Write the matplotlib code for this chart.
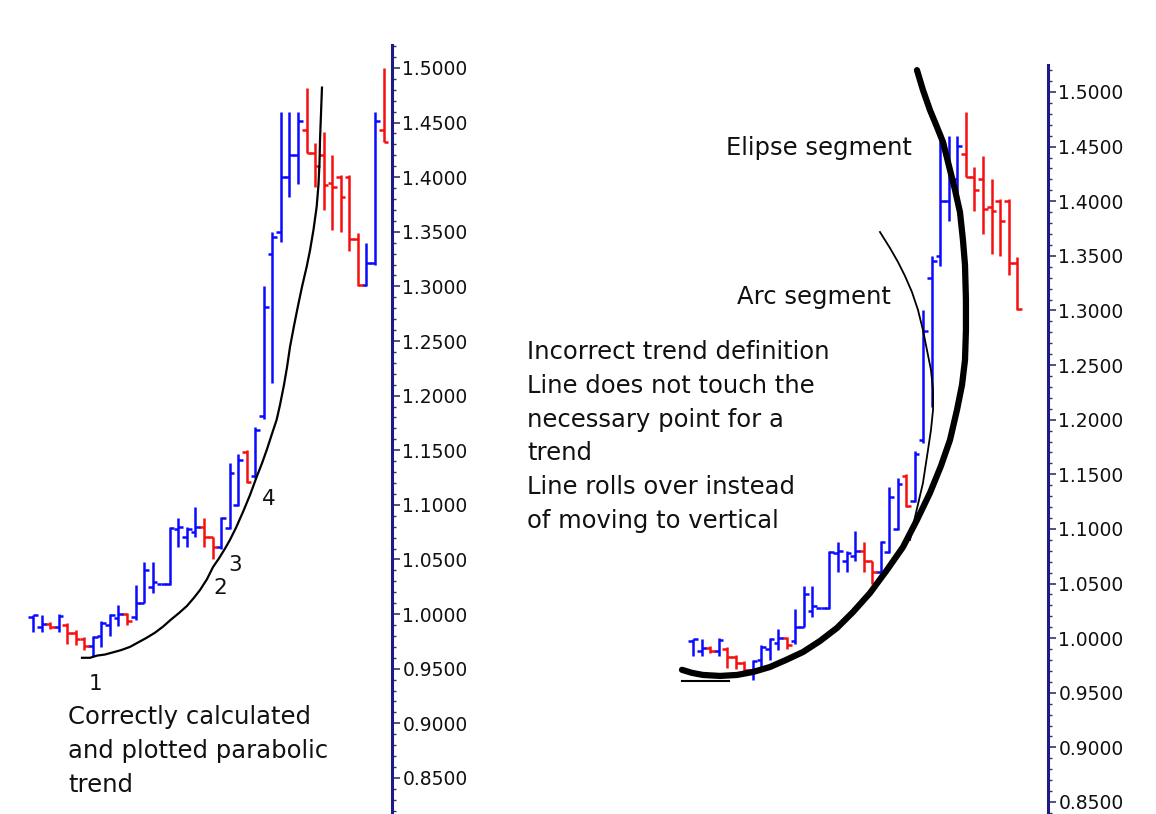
import matplotlib.pyplot as plt
from matplotlib.ticker import MultipleLocator, FormatStrFormatter

# OHLC bars (left chart shows all, right chart stops at the 1.30 low)
opens  = [0.997, 0.988, 0.991, 0.988, 0.990, 0.983, 0.977, 0.971, 0.980, 0.990,
          0.996, 1.000, 0.997, 1.010, 1.025, 1.028, 1.028, 1.078, 1.071, 1.075,
          1.080, 1.071, 1.061, 1.079, 1.100, 1.148, 1.126, 1.181, 1.330, 1.350,
          1.400, 1.420, 1.443, 1.422, 1.420, 1.395, 1.400, 1.400, 1.343, 1.301,
          1.321, 1.443]
highs  = [0.999, 0.999, 0.993, 1.000, 0.992, 0.985, 0.979, 0.980, 0.994, 1.000,
          1.008, 1.001, 1.027, 1.048, 1.048, 1.028, 1.080, 1.088, 1.080, 1.098,
          1.088, 1.071, 1.089, 1.138, 1.147, 1.150, 1.171, 1.300, 1.350, 1.460,
          1.460, 1.460, 1.482, 1.431, 1.441, 1.420, 1.402, 1.402, 1.349, 1.340,
          1.460, 1.500]
lows   = [0.984, 0.984, 0.986, 0.984, 0.973, 0.972, 0.967, 0.962, 0.970, 0.980,
          0.989, 0.990, 0.995, 1.010, 1.019, 1.028, 1.027, 1.061, 1.061, 1.071,
          1.061, 1.050, 1.060, 1.078, 1.099, 1.120, 1.125, 1.179, 1.212, 1.341,
          1.382, 1.394, 1.422, 1.391, 1.370, 1.352, 1.350, 1.332, 1.300, 1.300,
          1.320, 1.432]
closes = [0.999, 0.991, 0.988, 0.998, 0.983, 0.977, 0.971, 0.979, 0.992, 0.999,
          1.000, 0.994, 1.010, 1.040, 1.029, 1.028, 1.079, 1.080, 1.078, 1.080,
          1.071, 1.061, 1.088, 1.129, 1.141, 1.121, 1.169, 1.281, 1.345, 1.400,
          1.420, 1.451, 1.422, 1.410, 1.393, 1.391, 1.382, 1.343, 1.301, 1.321,
          1.451, 1.432]
n_right = 39

# trend lines (bar number, price)
para_x = [5.73, 6.67, 7.49, 8.42, 9.36, 10.29, 11.35, 12.28, 13.22, 14.27,
          15.2, 16.14, 17.08, 18.01, 18.83, 19.53, 20.35, 21.05, 21.75, 22.46,
          23.04, 23.74, 24.56, 25.38, 26.16, 26.78, 27.37, 27.95, 28.5, 28.89,
          29.36, 29.71, 30.06, 30.53, 30.99, 31.46, 32.01, 32.4, 32.81, 33.18,
          33.39, 33.51, 33.57, 33.68, 33.8]
para_y = [0.960, 0.960, 0.962, 0.963, 0.965, 0.967, 0.970, 0.974, 0.978, 0.983,
          0.9885, 0.995, 1.001, 1.0075, 1.015, 1.022, 1.032, 1.043, 1.051, 1.060,
          1.068, 1.079, 1.0935, 1.109, 1.1256, 1.138, 1.151, 1.165, 1.178, 1.1915,
          1.210, 1.226, 1.2446, 1.264, 1.282, 1.2995, 1.318, 1.333, 1.352, 1.373,
          1.393, 1.413, 1.434, 1.457, 1.482]

ellipse_x = [26.26, 26.96, 27.78, 28.6, 29.31, 30.13, 30.72, 31.3, 31.65, 31.89,
             32.0, 32.0, 31.89, 31.54, 30.95, 30.13, 29.07, 27.78, 26.26, 24.62,
             22.74, 20.75, 18.76, 16.88, 14.89, 12.9, 10.9, 9.03, 7.03, 5.16,
             3.17, 1.17, -0.12, -1.29]
ellipse_y = [1.520, 1.5018, 1.4835, 1.468, 1.4542, 1.4286, 1.4103, 1.390, 1.3645,
             1.3416, 1.3096, 1.2821, 1.2546, 1.2318, 1.2089, 1.1814, 1.1576, 1.1329,
             1.1082, 1.0834, 1.0624, 1.0413, 1.0239, 1.0093, 0.9974, 0.9873, 0.980,
             0.9736, 0.969, 0.9663, 0.9654, 0.9663, 0.9682, 0.971]

arc_x = [21.92, 23.09, 24.03, 24.85, 25.67, 26.38, 26.96, 27.43, 27.9, 28.14,
         28.14, 27.9, 27.55, 26.96, 26.03, 25.44]
arc_y = [1.3718, 1.3572, 1.3444, 1.3316, 1.3169, 1.3004, 1.2821, 1.2638, 1.2455,
         1.2272, 1.2089, 1.1906, 1.1722, 1.142, 1.1109, 1.0899]

base_x = [-1.3, 4.2]
base_y = [0.961, 0.961]

BLUE = "#0a0aff"
RED = "#f51010"
AXIS = "#1c1c86"

fig = plt.figure(figsize=(11.56, 8.14), dpi=100)
W, H = 1156, 814


def price_axes(rect, xlim, ylim):
    ax = fig.add_axes(rect)
    ax.set_xlim(xlim)
    ax.set_ylim(ylim)
    for side in ["left", "top", "bottom"]:
        ax.spines[side].set_visible(False)
    ax.spines["right"].set_color(AXIS)
    ax.spines["right"].set_linewidth(2.2)
    ax.set_xticks([])
    ax.yaxis.tick_right()
    ax.yaxis.set_major_locator(MultipleLocator(0.05))
    ax.yaxis.set_minor_locator(MultipleLocator(0.01))
    ax.yaxis.set_major_formatter(FormatStrFormatter("%.4f"))
    ax.tick_params(axis="y", which="major", length=6, width=1.2, color="#333366",
                   pad=1.5, labelsize=13.5, labelcolor="#111111")
    ax.tick_params(axis="y", which="minor", length=3, width=1.0, color="#333366")
    ax.patch.set_alpha(0)
    return ax


def draw_bars(ax, n):
    xs = list(range(n))
    cols = [BLUE if closes[i] >= opens[i] else RED for i in xs]
    ax.vlines(xs, lows[:n], highs[:n], colors=cols, lw=1.8)
    ax.hlines(opens[:n], [x - 0.55 for x in xs], xs, colors=cols, lw=1.8)
    ax.hlines(closes[:n], xs, [x + 0.55 for x in xs], colors=cols, lw=1.8)


# left chart: spine at x=392px, 1.5 at y=68px
axl = price_axes([0, 0, 392 / W, (H - 45) / H], (-3.86, 41.99), (0.817, 1.521))
draw_bars(axl, len(opens))
axl.plot(para_x, para_y, color="black", lw=1.6, clip_on=False)

# right chart: spine at x=1048px, 1.5 at y=92px
axr = price_axes([600 / W, 0, 448 / W, (H - 65) / H], (-10.9, 41.62), (0.839, 1.5247))
draw_bars(axr, n_right)
axr.plot(ellipse_x, ellipse_y, color="black", lw=4.5, clip_on=False,
         solid_capstyle="round", solid_joinstyle="round")
axr.plot(arc_x, arc_y, color="black", lw=1.3, clip_on=False)
axr.plot(base_x, base_y, color="black", lw=1.5, clip_on=False)


def label(x, y, s, size=17.5):
    fig.text(x / W, 1 - y / H, s, fontsize=size, ha="left", va="center",
             color="#111111")


label(726, 148, "Elipse segment")
label(737, 297, "Arc segment")
right_lines = ["Incorrect trend definition", "Line does not touch the",
               "necessary point for a", "trend", "Line rolls over instead",
               "of moving to vertical"]
for k, s in enumerate(right_lines):
    label(527, 352 + 33.8 * k, s)
left_lines = ["Correctly calculated", "and plotted parabolic", "trend"]
for k, s in enumerate(left_lines):
    label(68, 717 + 34 * k, s)

for s, x, y in [("1", 89, 684), ("2", 213, 588), ("3", 228, 565), ("4", 262, 499)]:
    label(x, y, s, size=15.5)

fig.savefig("out.png", dpi=100, facecolor="white")
